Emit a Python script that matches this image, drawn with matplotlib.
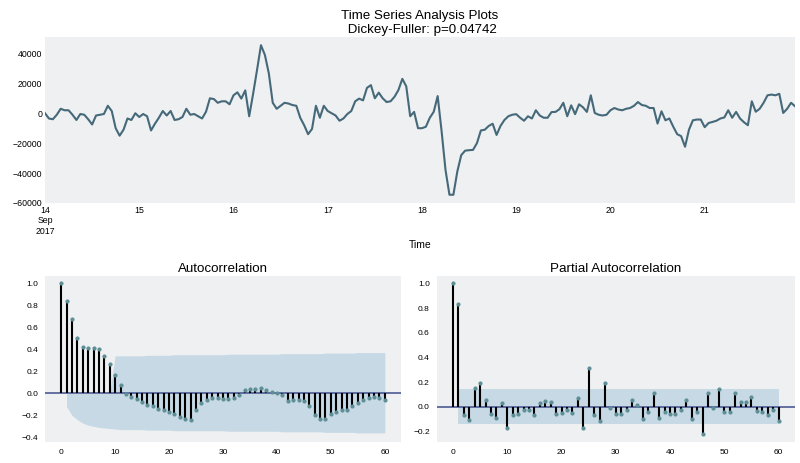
import numpy as np
import pandas as pd
import matplotlib
matplotlib.use('Agg')
import matplotlib.pyplot as plt

plt.rcParams['font.family'] = ['Liberation Sans', 'DejaVu Sans']

# hourly values, one list per day (14 - 21 Sep 2017)
day14 = [0, -3500, -4000, -1000, 3000, 2000, 2000, -1000, -4500, -500, -1000, -4000,
         -7500, -1500, -1000, -500, 5000, 1500, -10000, -15000, -11000, -3500, -4500, 0]
day15 = [-2500, -500, -2000, -11500, -7000, -3000, 1500, -1500, 1500, -4500, -4000, -2500,
         3000, -1000, -500, -2000, -3500, 1000, 10000, 9500, 7000, 8000, 8000, 6000]
day16 = [12000, 14000, 9800, 15300, -2000, 13000, 29000, 45500, 39000, 26700, 7000, 3000,
         5000, 7000, 6500, 5500, 5000, -3000, -8000, -14000, -10500, 5000, -3000, 5000]
day17 = [1500, 0, -1500, -5000, -3500, -500, 1500, 8000, 9800, 8600, 17000, 18800,
         10000, 13800, 10000, 7500, 8000, 11000, 15500, 23000, 18000, -2000, 900, -10000]
day18 = [-10000, -9000, -3000, 1000, 11500, -12000, -38000, -54500, -54500, -39000, -28000, -25000,
         -24700, -24500, -20000, -11500, -11000, -8500, -7000, -14500, -8500, -4500, -2000, -1000]
day19 = [-600, -3000, -5000, -2000, -3500, 2000, -1500, -3000, -3000, 800, 900, 2700,
         7000, -2000, 5300, -600, 6000, 4000, 900, 12000, 200, -1000, -1500, -1000]
day20 = [2000, 3500, 2500, 2000, 3000, 3500, 5000, 7500, 5500, 5000, 3500, 3500,
         -6900, 1300, -4700, -3500, -9000, -14000, -15300, -22400, -11000, -4700, -4200, -4200]
day21 = [-9300, -6500, -5800, -5000, -3500, -2800, 2000, -3000, 900, -3500, -6000, -8000,
         8000, 1000, 3000, 7000, 12000, 12500, 12000, 13000, 200, 3000, 7000, 4700]

acf_vals = [1.0, 0.835, 0.673, 0.505, 0.42, 0.407, 0.413, 0.40, 0.336, 0.266,
            0.168, 0.076, -0.01, -0.03, -0.05, -0.08, -0.11, -0.12, -0.14, -0.15,
            -0.17, -0.19, -0.22, -0.235, -0.24, -0.15, -0.09, -0.06, -0.04, -0.045,
            -0.05, -0.05, -0.045, -0.02, 0.03, 0.04, 0.04, 0.045, 0.03, 0.015,
            0.0, -0.02, -0.07, -0.06, -0.065, -0.07, -0.12, -0.2, -0.235, -0.235,
            -0.19, -0.17, -0.155, -0.15, -0.12, -0.09, -0.06, -0.04, -0.03, -0.04,
            -0.06]
# confidence band edges for lags 1..60 as seen on the chart
acf_band_hi = [0, 0, 0, 0, 0, 0, 0, 0, 0, 0.34,
               0.34, 0.34, 0.34, 0.34, 0.34, 0.345, 0.345, 0.345, 0.345, 0.345,
               0.35, 0.35, 0.35, 0.35, 0.35, 0.35, 0.35, 0.35, 0.35, 0.35,
               0.355, 0.355, 0.355, 0.355, 0.355, 0.355, 0.355, 0.355, 0.355, 0.355,
               0.36, 0.36, 0.36, 0.36, 0.36, 0.36, 0.36, 0.36, 0.365, 0.365,
               0.365, 0.365, 0.365, 0.365, 0.37, 0.37, 0.37, 0.37, 0.37, 0.37]
acf_band_lo = [-0.12, -0.20, -0.24, -0.27, -0.29, -0.30, -0.31, -0.315, -0.32, -0.325,
               -0.33, -0.33, -0.33, -0.33, -0.33, -0.335, -0.335, -0.335, -0.335, -0.335,
               -0.34, -0.34, -0.34, -0.34, -0.34, -0.34, -0.34, -0.34, -0.34, -0.34,
               -0.345, -0.345, -0.345, -0.345, -0.345, -0.345, -0.345, -0.345, -0.345, -0.345,
               -0.35, -0.35, -0.35, -0.35, -0.35, -0.35, -0.35, -0.35, -0.355, -0.355,
               -0.355, -0.355, -0.355, -0.355, -0.36, -0.36, -0.36, -0.36, -0.36, -0.36]

pacf_vals = [1.0, 0.83, -0.068, -0.108, 0.154, 0.19, 0.054, -0.062, -0.095, 0.027,
             -0.17, -0.068, -0.062, -0.027, -0.027, -0.068, 0.032, 0.046, 0.04, -0.062,
             -0.054, -0.027, -0.054, 0.068, -0.176, 0.316, -0.068, -0.12, 0.19, -0.014,
             -0.062, -0.062, -0.027, 0.054, 0.014, -0.1, -0.046, 0.108, -0.089, -0.04,
             -0.062, -0.062, -0.027, 0.054, -0.1, -0.04, -0.224, 0.108, -0.014, 0.143,
             -0.046, -0.046, 0.108, 0.04, 0.04, 0.08, -0.035, -0.04, -0.068, -0.027,
             -0.114]
pacf_band = 0.141

values = day14 + day15 + day16 + day17 + day18 + day19 + day20 + day21
index = pd.date_range('2017-09-14 00:00', periods=len(values), freq='h', name='Time')
ts = pd.Series(values, index=index)

bg = '#eef0f2'
fig = plt.figure(figsize=(8, 4.63), dpi=100)
ax_ts = fig.add_axes([0.05625, 0.5616, 0.9375, 0.3585])
ax_acf = fig.add_axes([0.05625, 0.046, 0.445, 0.358])
ax_pacf = fig.add_axes([0.546, 0.046, 0.4475, 0.358])

for ax in (ax_ts, ax_acf, ax_pacf):
    ax.set_facecolor(bg)
    for s in ax.spines.values():
        s.set_visible(False)

# time series
ts.plot(ax=ax_ts, color='#46697a', lw=1.5)
ax_ts.set_yticks([-60000, -40000, -20000, 0, 20000, 40000])
ax_ts.set_ylim(-60000, 51000)
ax_ts.set_title('Time Series Analysis Plots\n Dickey-Fuller: p=0.04742', fontsize=9.6, pad=3)
ax_ts.set_xlabel('Time', fontsize=7.5, labelpad=3)
ax_ts.tick_params(which='both', length=0, labelsize=6.3, pad=2)

# acf / pacf
def corr_plot(ax, vals, lo, hi, title):
    lags = np.arange(len(vals))
    ax.fill_between(lags[1:], lo, hi, color='#c6d9e5', lw=0)
    ax.axhline(0, color='#4b5a94', lw=1.2)
    ax.vlines(lags, 0, vals, color='black', lw=1.5)
    ax.plot(lags, vals, 'o', color='#5f8f96', ms=2)
    ax.set_xlim(-3, 63)
    ax.set_xticks([0, 10, 20, 30, 40, 50, 60])
    ax.set_title(title, fontsize=9.6, pad=3)
    ax.tick_params(length=0, labelsize=6, pad=5)

corr_plot(ax_acf, acf_vals, acf_band_lo, acf_band_hi, 'Autocorrelation')
ax_acf.set_ylim(-0.44, 1.066)
ax_acf.set_yticks([-0.4, -0.2, 0.0, 0.2, 0.4, 0.6, 0.8, 1.0])

corr_plot(ax_pacf, pacf_vals, [-pacf_band] * 60, [pacf_band] * 60, 'Partial Autocorrelation')
ax_pacf.set_ylim(-0.284, 1.06)
ax_pacf.set_yticks([-0.2, 0.0, 0.2, 0.4, 0.6, 0.8, 1.0])

fig.savefig('out.png', dpi=100)
